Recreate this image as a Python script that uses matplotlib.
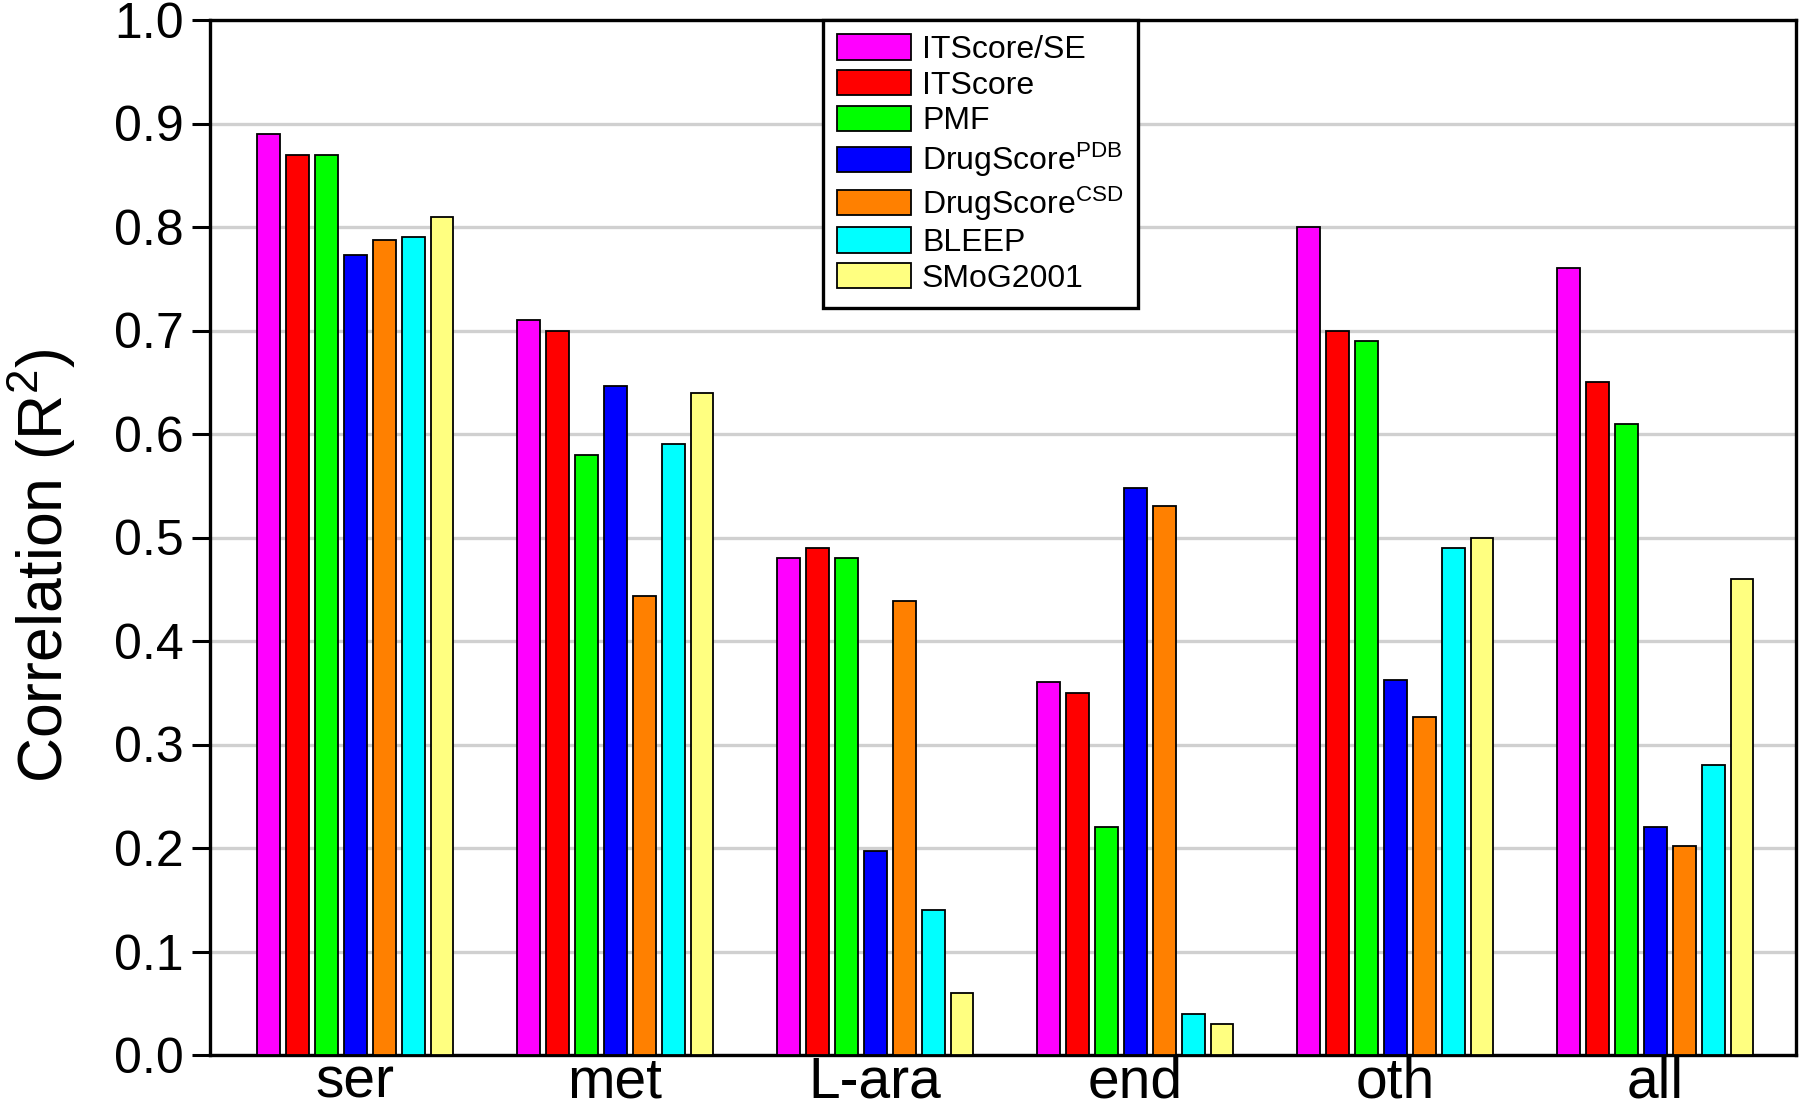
import matplotlib
matplotlib.use("Agg")
import matplotlib.pyplot as plt
import numpy as np

plt.rcParams['font.family'] = ['Liberation Sans', 'DejaVu Sans']
plt.rcParams['mathtext.fontset'] = 'custom'
plt.rcParams['mathtext.rm'] = 'Liberation Sans'
plt.rcParams['mathtext.it'] = 'Liberation Sans'
plt.rcParams['mathtext.bf'] = 'Liberation Sans'

categories = ["ser", "met", "L-ara", "end", "oth", "all"]
series_names = ["ITScore/SE", "ITScore", "PMF", r"DrugScore$^{\mathrm{PDB}}$",
                r"DrugScore$^{\mathrm{CSD}}$", "BLEEP", "SMoG2001"]
colors = ["#FF00FF", "#FF0000", "#00FF00", "#0000FF", "#FF8000", "#00FFFF", "#FFFF80"]

itscore_se = [0.89, 0.71, 0.48, 0.36, 0.80, 0.76]
itscore = [0.87, 0.70, 0.49, 0.35, 0.70, 0.65]
pmf = [0.87, 0.58, 0.48, 0.22, 0.69, 0.61]
drugscore_pdb = [0.773, 0.646, 0.197, 0.548, 0.362, 0.22]
drugscore_csd = [0.787, 0.443, 0.439, 0.530, 0.327, 0.202]
bleep = [0.79, 0.59, 0.14, 0.04, 0.49, 0.28]
smog = [0.81, 0.64, 0.06, 0.03, 0.50, 0.46]
series = [itscore_se, itscore, pmf, drugscore_pdb, drugscore_csd, bleep, smog]

yticks = [0.0, 0.1, 0.2, 0.3, 0.4, 0.5, 0.6, 0.7, 0.8, 0.9, 1.0]

fig = plt.figure(figsize=(18, 11.06), dpi=100)
ax = fig.add_axes([210/1800, 1-1055/1106, (1796-210)/1800, (1055-20)/1106])

x = np.arange(len(categories))
pitch = 0.1115
width = 0.088
for i, (vals, name, c) in enumerate(zip(series, series_names, colors)):
    ax.bar(x + (i-3)*pitch, vals, width, color=c, edgecolor='black',
           linewidth=1.3, label=name, zorder=3)

ax.set_xlim(-0.558, 5.542)
ax.set_ylim(0, 1.0)
ax.set_yticks(yticks)
ax.set_yticklabels([f"{v:.1f}" for v in yticks])
ax.set_xticks(x)
ax.set_xticklabels(categories)
ax.tick_params(axis='y', direction='out', length=13, width=2.2, labelsize=36, pad=6)
ax.tick_params(axis='x', length=0, labelsize=41, pad=0)
ax.yaxis.grid(True, color='#d0d0d0', linewidth=2.4, zorder=0)
ax.set_axisbelow(True)
for s in ax.spines.values():
    s.set_linewidth(2.4)
    s.set_color('black')

ax.set_ylabel("Correlation (R$^2$)", fontsize=45)
ax.yaxis.set_label_coords(-0.0835, 0.473)

leg = ax.legend(loc='upper left', bbox_to_anchor=(0.3865, 1.0), fontsize=23,
                frameon=True, fancybox=False, edgecolor='black', framealpha=1,
                handlelength=2.3, handleheight=0.85, handletextpad=0.35,
                labelspacing=0.15, borderpad=0.45, borderaxespad=0)
leg.get_frame().set_linewidth(2.4)
leg.set_zorder(5)

fig.savefig("out.png", dpi=100)
